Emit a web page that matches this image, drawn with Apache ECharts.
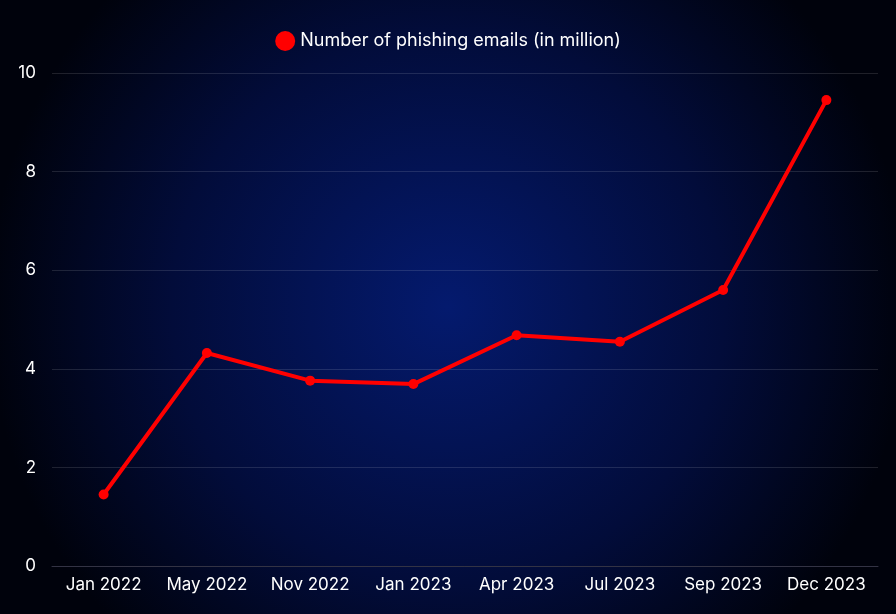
<!DOCTYPE html>
<html><head><meta charset="utf-8">
<script src="https://cdn.jsdelivr.net/npm/echarts@6/dist/echarts.min.js"></script>
<style>html,body{margin:0;padding:0;background:#000}#c{width:896px;height:614px}</style>
</head><body><div id="c"></div>
<script>
const categories = ["Jan 2022","May 2022","Nov 2022","Jan 2023","Apr 2023","Jul 2023","Sep 2023","Dec 2023"];
const values = [1.45,4.32,3.76,3.69,4.68,4.55,5.6,9.45];
const seriesName = "Number of phishing emails (in million)";
const chart = echarts.init(document.getElementById('c'));
chart.setOption({
  backgroundColor: {type:'radial',x:0.5,y:0.5,r:0.75,colorStops:[{offset:0,color:'#041a6e'},{offset:0.6,color:'#020c3a'},{offset:1,color:'#00020c'}]},
  textStyle:{fontFamily:'Inter'},
  legend:{top:26,left:'center',icon:'circle',itemWidth:20,itemHeight:20,itemGap:6,textStyle:{color:'#fff',fontSize:18,fontFamily:'Inter'}},
  grid:{left:52,right:18,top:73,bottom:48},
  xAxis:{type:'category',data:categories,boundaryGap:true,axisLine:{lineStyle:{color:'#334'}},axisTick:{show:false},
    axisLabel:{color:'#fff',fontSize:17,margin:10,interval:0,fontFamily:'Inter',hideOverlap:false}},
  yAxis:{type:'value',min:0,max:10,interval:2,splitLine:{lineStyle:{color:'rgba(255,255,255,0.12)'}},
    axisLabel:{color:'#fff',fontSize:17,margin:16,fontFamily:'Inter'}},
  series:[{name:seriesName,type:'line',data:values,color:'#ff0000',lineStyle:{width:4,color:'#ff0000'},
    symbol:'circle',symbolSize:10,itemStyle:{color:'#ff0000'}}]
});
</script></body></html>
